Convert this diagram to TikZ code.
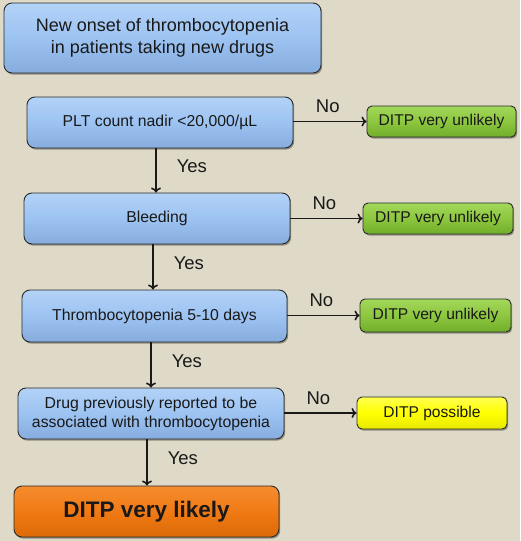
\documentclass[tikz,border=0pt]{standalone}
\usepackage{fontspec}
\setmainfont{Liberation Sans}
\usetikzlibrary{arrows.meta,shadows}
\definecolor{bg}{HTML}{DEDAC7}
\definecolor{bluem}{HTML}{9CC3F2}
\definecolor{bluet}{HTML}{B3D2F7}
\definecolor{blueb}{HTML}{86ACDD}
\definecolor{greenm}{HTML}{8DC63F}
\definecolor{greent}{HTML}{A2D85A}
\definecolor{greenb}{HTML}{72AE2A}
\definecolor{yellm}{HTML}{FFFF00}
\definecolor{yellt}{HTML}{FFFF50}
\definecolor{yellb}{HTML}{E8E800}
\definecolor{orm}{HTML}{F07A14}
\definecolor{ort}{HTML}{F68C2E}
\definecolor{orb}{HTML}{DC6A08}
\definecolor{edge}{HTML}{2A2A2A}
\tikzset{
  boxbase/.style={draw=edge, line width=0.9pt, rounded corners=8pt, align=center,
    inner sep=0pt, text=black!90,
    drop shadow={shadow xshift=1.2pt, shadow yshift=-1.6pt, fill=black, opacity=0.35}},
  bluebox/.style={boxbase, top color=bluet, bottom color=blueb, middle color=bluem},
  greenbox/.style={boxbase, rounded corners=5pt, top color=greent, bottom color=greenb, middle color=greenm},
  yellbox/.style={boxbase, rounded corners=5pt, top color=yellt, bottom color=yellb, middle color=yellm},
  orbox/.style={boxbase, top color=ort, bottom color=orb, middle color=orm},
  arr/.style={line width=1.5pt, draw=black!90, -{To[length=5pt,width=10pt,line width=1.5pt]}},
  lab/.style={font=\fontsize{18.5}{20}\selectfont, text=black!90, inner sep=0pt},
  btxt/.style={font=\fontsize{15.8}{19}\selectfont},
  gtxt/.style={font=\fontsize{15.6}{17}\selectfont},
}
\begin{document}
\begin{tikzpicture}[x=1pt,y=-1pt]
\fill[bg] (0,0) rectangle (520,541);
\useasboundingbox (0,0) rectangle (520,541);

\node[bluebox, minimum width=317pt, minimum height=70pt,
  font=\fontsize{18}{22}\selectfont] (start) at (162.5,38)
  {New onset of thrombocytopenia\\in patients taking new drugs};

\node[bluebox, btxt, minimum width=266pt, minimum height=51pt] (plt) at (160,122.5) {PLT count nadir <20,000/µL};
\node[greenbox, gtxt, minimum width=149pt, minimum height=31pt] (g1) at (441.5,121.5) {DITP very unlikely};

\node[bluebox, btxt, minimum width=266pt, minimum height=51pt] (bleed) at (157,218.5) {Bleeding};
\node[greenbox, gtxt, minimum width=150pt, minimum height=31pt] (g2) at (438,218.5) {DITP very unlikely};

\node[bluebox, btxt, minimum width=265pt, minimum height=52pt] (days) at (154.5,316) {Thrombocytopenia 5-10 days};
\node[greenbox, gtxt, minimum width=151pt, minimum height=33pt] (g3) at (435.5,315.5) {DITP very unlikely};

\node[bluebox, btxt, minimum width=266pt, minimum height=51pt] (drug) at (151,413.5)
  {Drug previously reported to be\\associated with thrombocytopenia};
\node[yellbox, gtxt, minimum width=150pt, minimum height=32pt] (yel) at (432,413) {DITP possible};

\node[orbox, minimum width=265pt, minimum height=51pt,
  font=\bfseries\fontsize{22.5}{24}\selectfont] (likely) at (146.5,511.5) {DITP very likely};

% No arrows
\draw[arr] (plt.east |- g1.west) -- (g1.west) node[lab, pos=0.47, above=8pt] {No};
\draw[arr] (bleed.east |- g2.west) -- (g2.west) node[lab, pos=0.47, above=8pt] {No};
\draw[arr] (days.east |- g3.west) -- (g3.west) node[lab, pos=0.47, above=8pt] {No};
\draw[arr] (drug.east |- yel.west) -- (yel.west) node[lab, pos=0.47, above=8pt] {No};

% Yes arrows
\draw[arr] ([xshift=-4pt]plt.south) -- ([xshift=-4pt]plt.south |- bleed.north)
  node[lab, midway, right=20pt, yshift=4pt] {Yes};
\draw[arr] ([xshift=-4pt]bleed.south) -- ([xshift=-4pt]bleed.south |- days.north)
  node[lab, midway, right=20pt, yshift=4pt] {Yes};
\draw[arr] ([xshift=-3.5pt]days.south) -- ([xshift=-3.5pt]days.south |- drug.north)
  node[lab, midway, right=20pt, yshift=4pt] {Yes};
\draw[arr] ([xshift=-4pt]drug.south) -- ([xshift=-4pt]drug.south |- likely.north)
  node[lab, midway, right=20pt, yshift=4pt] {Yes};
\end{tikzpicture}
\end{document}
